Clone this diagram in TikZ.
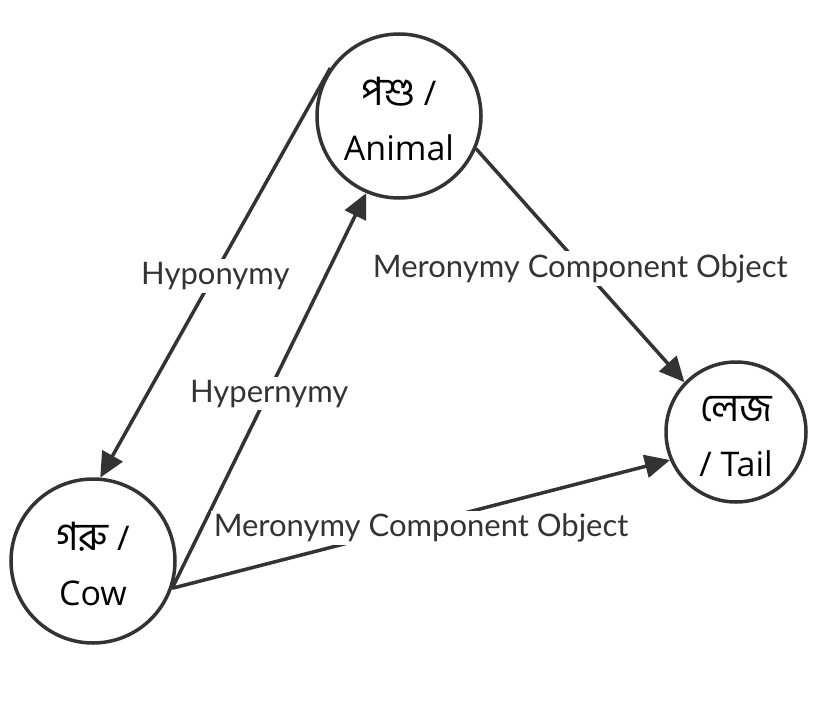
\documentclass[tikz,border=0pt]{standalone}
\usepackage{fontspec}
\setmainfont{Lato}
\newfontfamily\nodefont{Open Sans}
\newfontfamily\bnfont[Script=Bengali,Scale=1.15]{Hind Siliguri}
\usetikzlibrary{arrows.meta}
\definecolor{ink}{HTML}{333333}
\newcommand\topstrut{\rule{0pt}{35pt}}
\tikzset{
  concept/.style={circle, draw=ink, line width=3.5pt, inner sep=0pt, align=center,
    font=\nodefont\fontsize{34}{55}\selectfont, text=black},
  rel/.style={draw=ink, line width=3.5pt, -{Triangle[length=25pt,width=23pt]}},
  lab/.style={fill=white, text=ink, font=\fontsize{31}{34}\selectfont, inner sep=3pt}
}
\begin{document}
\begin{tikzpicture}[x=1pt,y=-1pt]
\useasboundingbox (0,0) rectangle (816,706);
\node[concept, minimum size=164pt] (animal) at (399,116) {\topstrut{\bnfont পশু} /\\Animal};
\node[concept, minimum size=140pt] (tail) at (736,432) {\topstrut{\bnfont লেজ}\\/ Tail};
\node[concept, minimum size=164pt] (cow) at (93,561) {\topstrut{\bnfont গরু} /\\Cow};
\draw[rel] (animal.145) -- node[lab, midway, yshift=-3pt] {Hyponymy} (cow.85);
\draw[rel] (cow.-19) -- node[lab, midway, yshift=-3pt] {Hypernymy} (animal.-113);
\draw[rel] (animal.-23) -- node[lab, midway, yshift=-3pt] {Meronymy Component Object} (tail.136);
\draw[rel] (cow.-19) -- node[lab, midway, yshift=-4pt] {Meronymy Component Object} (tail.203);
\end{tikzpicture}
\end{document}
